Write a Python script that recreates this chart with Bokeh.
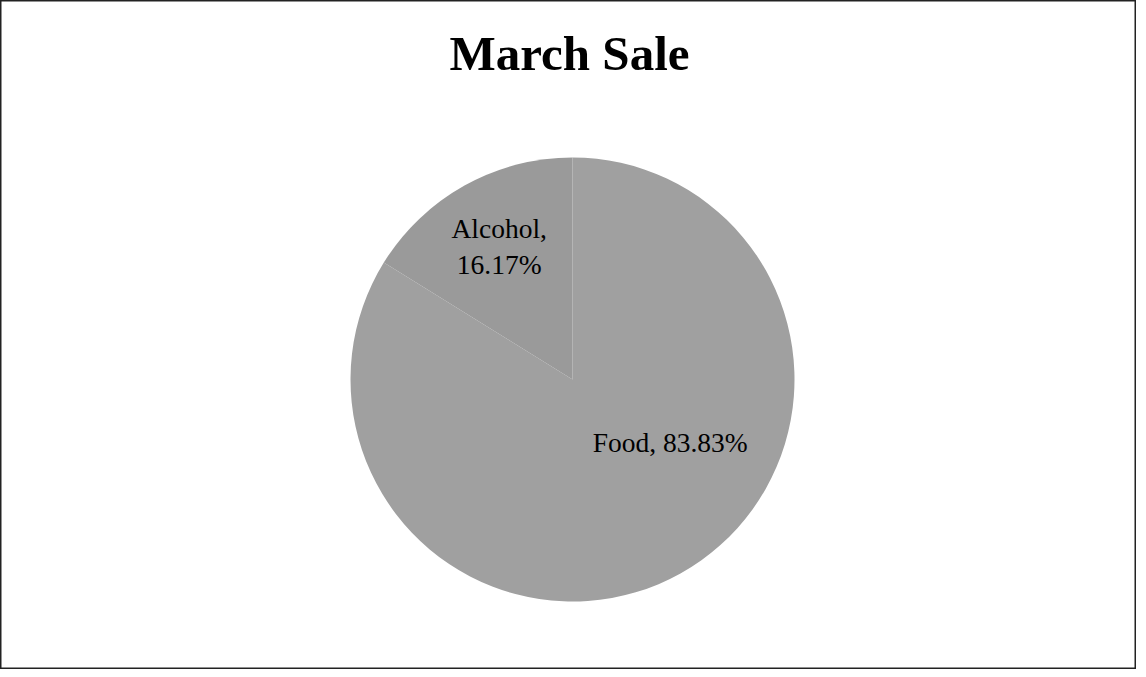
import numpy as np
from bokeh.plotting import figure
from bokeh.models import ColumnDataSource, Range1d, Label
from bokeh.core.properties import value
from bokeh.embed import file_html
from bokeh.resources import INLINE

# ---- data ----
categories = ["Food", "Alcohol"]
shares = [83.83, 16.17]
colors = ["#a0a0a0", "#9a9a9a"]
title_text = "March Sale"

W, H = 1136, 669
cx, cy, R = 572, 290, 222
# label placement (fractions of radius, relative to pie center)
label_offsets = [(0.44, -0.285), (-0.33, 0.60)]

frac = np.array(shares) / sum(shares)
cum = np.cumsum(frac) * 2 * np.pi
prev = np.concatenate([[0.0], cum[:-1]])
start = np.pi / 2 - prev
end = np.pi / 2 - cum

labels = [f"{c},\n{s:.2f}%" if c == "Alcohol" else f"{c}, {s:.2f}%" for c, s in zip(categories, shares)]
lx = [cx + dx * R for dx, dy in label_offsets]
ly = [cy + dy * R for dx, dy in label_offsets]

src = ColumnDataSource(dict(cat=categories, share=shares, start=start, end=end,
                            color=colors, label=labels, lx=lx, ly=ly))

p = figure(width=W, height=H, output_backend="svg", toolbar_location=None,
           x_range=Range1d(0, W), y_range=Range1d(0, H), min_border=0)
p.axis.visible = False
p.grid.visible = False
p.outline_line_color = "#222222"
p.outline_line_width = 2
p.background_fill_color = "white"
p.border_fill_color = "white"

p.wedge(x=cx, y=cy, radius=R, start_angle="start", end_angle="end", direction="clock",
        fill_color="color", line_color=None, source=src)

p.text(x="lx", y="ly", text="label", source=src, text_align="center", text_baseline="middle",
       text_font=value("Liberation Serif"), text_font_size="27.5px", text_color="black",
       text_line_height=1.15)

p.add_layout(Label(x=W / 2 + 1, y=616, text=title_text, text_align="center", text_baseline="middle",
                   text_font="Liberation Serif", text_font_style="bold", text_font_size="49px",
                   text_color="black"))

open("out.html", "w").write(file_html(p, INLINE))
